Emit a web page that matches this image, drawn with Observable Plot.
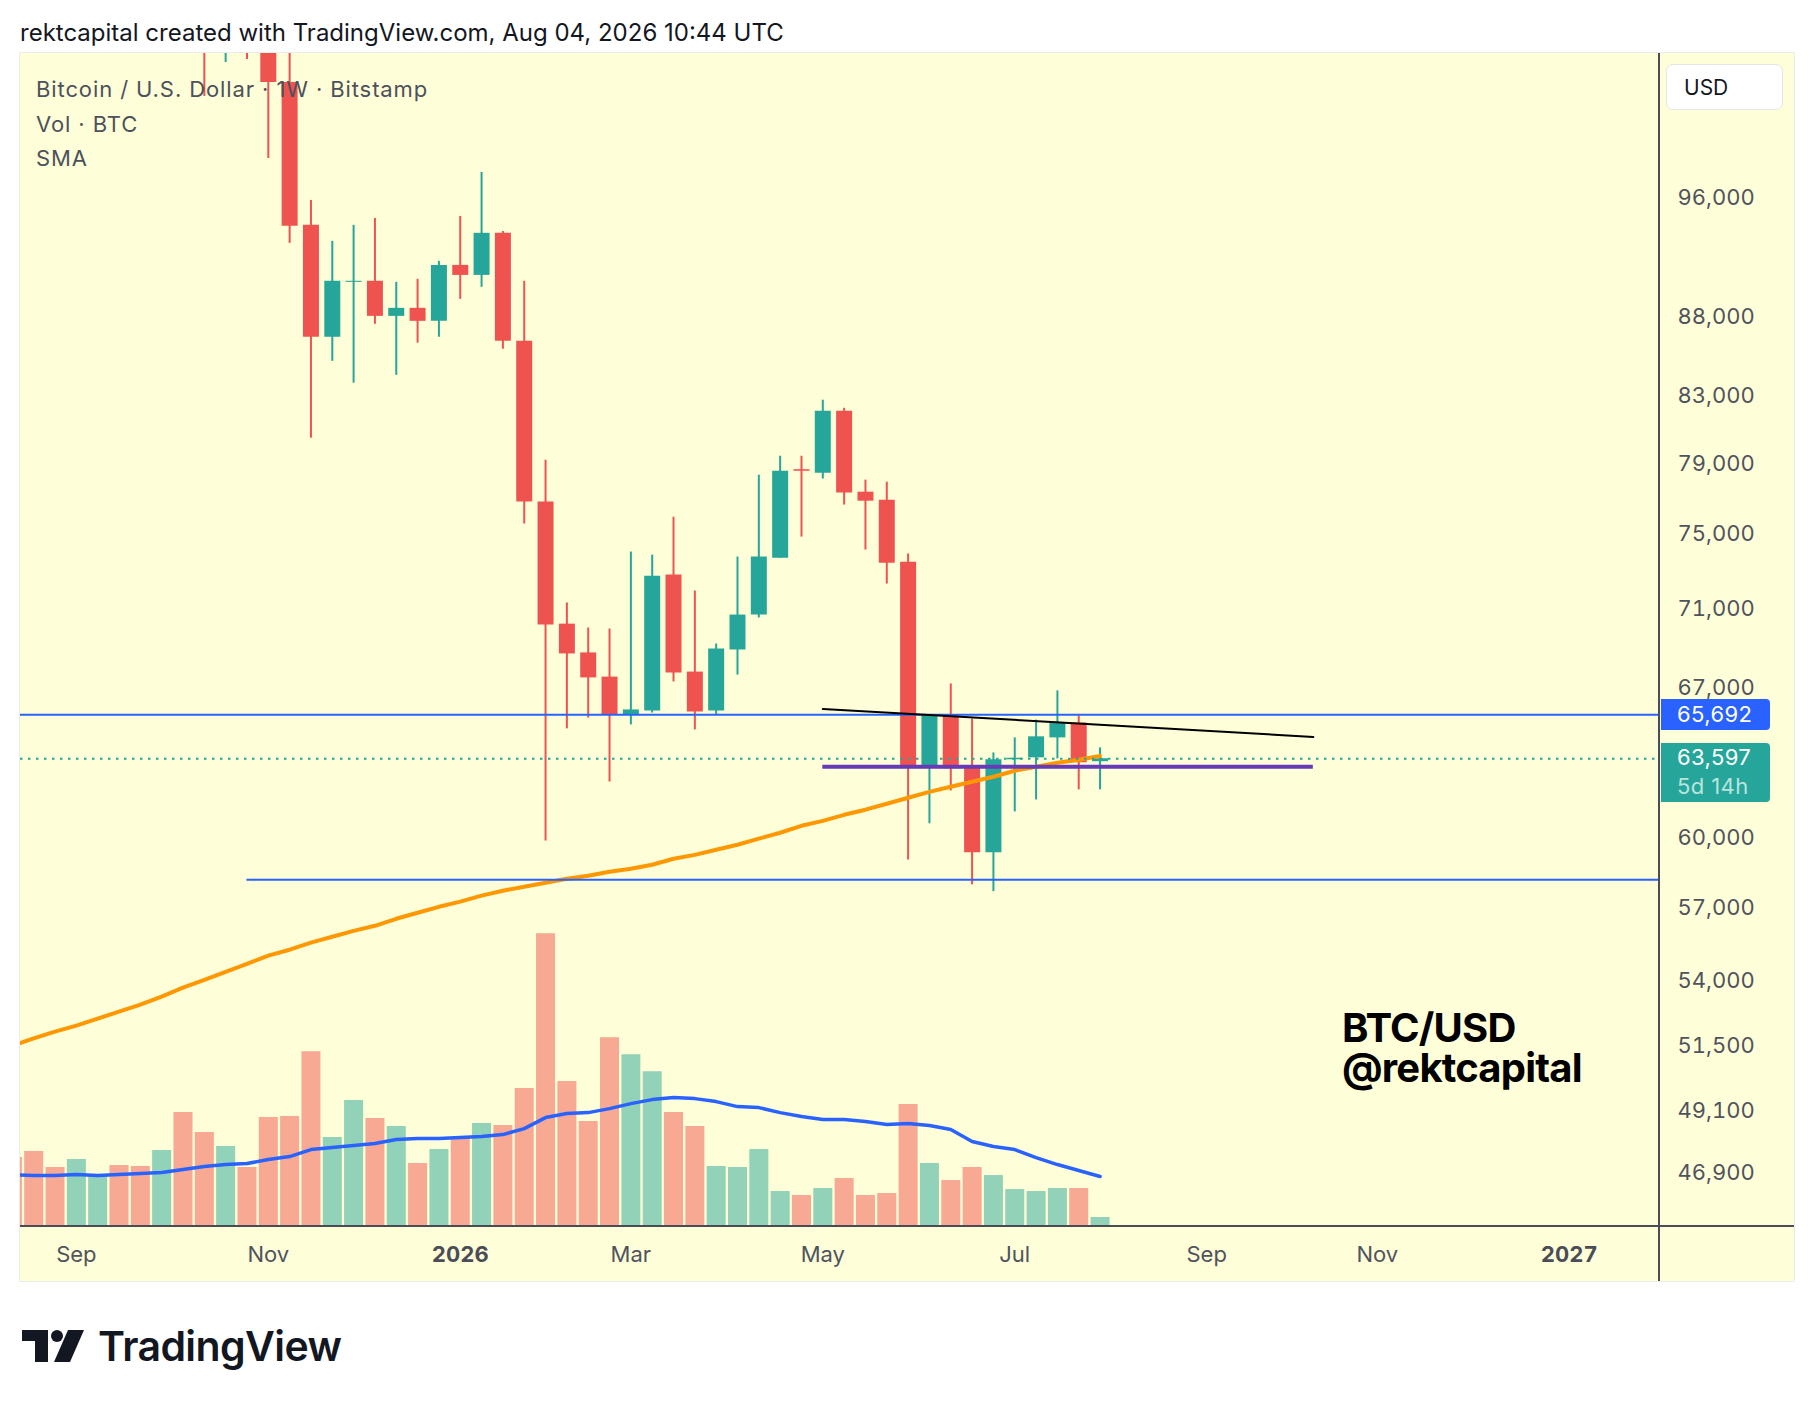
<!DOCTYPE html>
<html>
<head>
<meta charset="utf-8">
<script src="https://cdn.jsdelivr.net/npm/d3@7"></script>
<script src="https://cdn.jsdelivr.net/npm/@observablehq/plot@0.6"></script>
<style>
html,body{margin:0;padding:0;background:#ffffff;}
#page{position:relative;width:1814px;height:1402px;overflow:hidden;font-family:Inter,"Noto Sans",sans-serif;background:#fff;}
#title{position:absolute;left:20px;top:21px;font-size:24px;line-height:24px;color:#131722;white-space:nowrap;}
#frame{position:absolute;left:20px;top:53px;width:1774px;height:1228px;background:#fefed8;box-shadow:0 0 0 1px #ececec;}
.layer{position:absolute;left:0;top:0;}
.legend{position:absolute;left:16px;font-size:22px;line-height:22px;color:#4c515c;white-space:nowrap;letter-spacing:0.9px;}
.hline{position:absolute;background:#4a4d57;}
#usd{position:absolute;left:1646px;top:11px;width:117px;height:46px;background:#fff;border:1px solid #e6e6e6;border-radius:7px;box-sizing:border-box;font-size:21px;line-height:46px;padding-left:17px;color:#131722;}
.tag{position:absolute;left:1641px;width:109px;border-radius:0 4px 4px 0;color:#fff;font-size:22px;box-sizing:border-box;padding-left:16px;letter-spacing:0.4px;}
#brand{position:absolute;left:1322px;top:955px;font-size:40px;line-height:40px;font-weight:700;color:#000;letter-spacing:-0.8px;white-space:nowrap;}
#tv{position:absolute;left:22px;top:1318px;height:56px;display:flex;align-items:center;}
#tv span{font-size:41px;font-weight:600;color:#131722;margin-left:12px;letter-spacing:-0.6px;}
</style>
</head>
<body>
<div id="page">
  <div id="title">rektcapital created with TradingView.com, Aug 04, 2026 10:44 UTC</div>
  <div id="frame">
    <div id="vol" class="layer"></div>
    <div id="price" class="layer"></div>
    <div class="hline" style="left:1638px;top:0;width:2px;height:1228px;"></div>
    <div class="hline" style="left:0;top:1172px;width:1774px;height:2px;"></div>
    <div class="legend" style="top:25px;">Bitcoin / U.S. Dollar · 1W · Bitstamp</div>
    <div class="legend" style="top:60px;">Vol · BTC</div>
    <div class="legend" style="top:94px;">SMA</div>
    <div id="usd">USD</div>
    <div id="brand">BTC/USD<br>@rektcapital</div>
  </div>
  <div id="tv">
    <svg width="64" height="32" viewBox="0 0 64 32">
      <path d="M0 0 H26 V32 H13 V11 H0 Z" fill="#131722"/>
      <circle cx="35" cy="6" r="6" fill="#131722"/>
      <path d="M46 0 H62 L48 32 H32 Z" fill="#131722"/>
    </svg>
    <span>TradingView</span>
  </div>
</div>
<script>
// ---- data (weekly candles, Bitstamp BTC/USD) ----
const weeks = ["2025-08-11","2025-08-18","2025-08-25","2025-09-01","2025-09-08","2025-09-15","2025-09-22","2025-09-29",
  "2025-10-06","2025-10-13","2025-10-20","2025-10-27","2025-11-03","2025-11-10","2025-11-17","2025-11-24",
  "2025-12-01","2025-12-08","2025-12-15","2025-12-22","2025-12-29","2026-01-05","2026-01-12","2026-01-19",
  "2026-01-26","2026-02-02","2026-02-09","2026-02-16","2026-02-23","2026-03-02","2026-03-09","2026-03-16",
  "2026-03-23","2026-03-30","2026-04-06","2026-04-13","2026-04-20","2026-04-27","2026-05-04","2026-05-11",
  "2026-05-18","2026-05-25","2026-06-01","2026-06-08","2026-06-15","2026-06-22","2026-06-29","2026-07-06",
  "2026-07-13","2026-07-20","2026-07-27","2026-08-03"];
const open = [119300,117400,113500,108300,111200,115300,115200,109600,123500,115200,108600,114500,110600,104530,94120,86690,
  90260,90330,88030,88550,87710,91390,90720,93570,86430,76800,70210,68740,67530,65680,65870,72790,
  67780,65870,68890,70680,73700,78650,78450,82100,77360,76900,73480,63220,65690,63170,59350,63550,
  63640,64580,65290,63460];
const high = [124450,117600,113600,113400,116800,117900,115400,125600,126200,115900,116000,116400,110700,107500,95860,93020,
  94120,94600,90260,90460,91660,94740,97850,93700,90330,79200,71310,70010,69960,74030,73860,75950,
  71940,69190,73760,78330,79430,79430,82770,82280,78050,77930,73920,65700,67190,65480,63870,64580,
  65430,66850,65630,64110];
const low = [116800,110700,107300,107300,110600,114700,108600,109500,107500,103470,106080,106320,98860,92880,80490,85170,
  83810,87520,84300,86310,86690,89140,89930,85930,75570,59870,65010,65530,62520,65200,65770,67290,
  64960,65680,67630,70530,73700,74850,78110,76630,74140,72310,59040,60630,62110,57970,57680,61160,
  61700,63590,62160,62160];
const close = [117400,113500,108300,111200,115300,115200,109600,123500,115200,108600,114500,110600,104530,94050,86690,90330,
  90330,88030,88550,87710,91390,90720,93570,86430,76800,70160,68690,67490,65680,65920,72730,67730,
  65820,68940,70680,73760,78560,78560,82100,77310,76850,73430,63220,65690,63130,59350,63550,63620,
  64630,65290,63410,63597];
const volume = [4080,4440,3480,3960,3060,3600,3540,4500,6780,5580,4740,3480,6480,6540,10440,5280,
  7500,6420,5940,3720,4560,5220,6120,6000,8220,17520,8640,6240,11280,10260,9240,6780,
  5940,3540,3480,4560,2040,1800,2220,2820,1800,1920,7260,3720,2700,3480,3000,2160,
  2040,2220,2220,480];
const priceSma = [51510,51780,52040,52270,52540,52810,53080,53400,53750,54060,54380,54700,55030,55270,55560,55800,
  56040,56250,56540,56790,57040,57260,57510,57720,57890,58060,58230,58360,58530,58660,58830,59090,
  59260,59480,59700,59970,60230,60540,60760,61030,61260,61530,61800,62070,62300,62530,62760,63040,
  63220,63410,63550,63730];
const volumeSma = [3060,3000,3000,3060,3000,3060,3120,3180,3360,3540,3660,3720,3960,4140,4560,4680,
  4800,4920,5160,5220,5220,5280,5340,5460,5820,6480,6720,6780,7020,7320,7560,7680,
  7620,7440,7140,7080,6780,6540,6360,6360,6240,6060,6120,6000,5760,5040,4740,4560,
  4080,3660,3300,2940];

const priceTicks = [96000,88000,83000,79000,75000,71000,67000,60000,57000,54000,51500,49100,46900];
const monthTicks = ["2025-09-01","2025-11-03","2026-03-02","2026-05-04","2026-07-06","2026-09-07","2026-11-02"];
const yearTicks = ["2026-01-05","2027-01-04"];
const resistanceLevel = 65692;
const supportLevel = 58185, supportStart = "2025-10-27";
const purpleLevel = 63219, purpleStart = "2026-05-04", purpleEnd = "2026-10-12";
const trendDates = ["2026-05-04","2026-10-12"], trendValues = [65965,64625];
const lastPrice = 63597, countdown = "5d 14h";
const priceDomain = [45130,106790];
const volumeDomain = [0,70380];
const timeDomain = ["2025-08-13T16:00:00Z","2027-02-02T07:00:00Z"];

// ---- build rows ----
const rows = weeks.map((w,i)=>({date:new Date(w), open:open[i], high:high[i], low:low[i], close:close[i],
  vol:volume[i], sma:priceSma[i], vsma:volumeSma[i]}));
const up = "#26a69a", down = "#ef5350";
const candleColor = d => d.close >= d.open ? up : down;
const volColor = d => d.close >= d.open ? "rgba(38,166,154,0.5)" : "rgba(239,83,80,0.5)";
const W = 1774, H = 1228;
const common = {
  width: W, height: H, marginLeft: 0, marginRight: 136, marginTop: 0, marginBottom: 56,
  style: {background:"transparent", fontFamily:"Inter, sans-serif", fontSize:"22px", color:"#50535e", overflow:"visible"}
};
const timeExtent = timeDomain.map(d=>new Date(d));

const volPlot = Plot.plot({
  ...common,
  x: {type:"utc", domain: timeExtent, axis:null},
  y: {type:"linear", domain: volumeDomain, axis:null},
  marks: [
    Plot.ruleX(rows, {x:"date", y1:0, y2:"vol", stroke: volColor, strokeWidth:19, clip:true}),
    Plot.line(rows, {x:"date", y:"vsma", stroke:"#2962ff", strokeWidth:3.5, clip:true})
  ]
});
document.getElementById("vol").appendChild(volPlot);

const pricePlot = Plot.plot({
  ...common,
  x: {type:"utc", domain: timeExtent},
  y: {type:"log", domain: priceDomain},
  marks: [
    Plot.ruleX(rows, {x:"date", y1:"low", y2:"high", stroke: candleColor, strokeWidth:2, clip:true}),
    Plot.ruleX(rows, {x:"date", y1:"open", y2:"close", stroke: candleColor, strokeWidth:16, clip:true}),
    Plot.line(rows, {x:"date", y:"sma", stroke:"#ff9800", strokeWidth:4, clip:true}),
    Plot.ruleY([lastPrice], {stroke:up, strokeWidth:2, strokeDasharray:"2.5,5.5"}),
    Plot.ruleY([resistanceLevel], {stroke:"#2962ff", strokeWidth:2}),
    Plot.ruleY([supportLevel], {x1:new Date(supportStart), x2:timeExtent[1], stroke:"#2962ff", strokeWidth:2}),
    Plot.ruleY([purpleLevel], {x1:new Date(purpleStart), x2:new Date(purpleEnd), stroke:"#673ab7", strokeWidth:4}),
    Plot.line(trendDates.map((d,i)=>({date:new Date(d), v:trendValues[i]})), {x:"date", y:"v", stroke:"#000", strokeWidth:2}),
    Plot.axisY(priceTicks, {anchor:"right", tickSize:0, tickPadding:19, tickFormat:d3.format(","), fontSize:22, fill:"#50535e", letterSpacing:"0.4px"}),
    Plot.axisX(monthTicks.map(d=>new Date(d)), {anchor:"bottom", tickSize:0, tickPadding:21, tickFormat:d3.utcFormat("%b"), fontSize:22, fill:"#50535e"}),
    Plot.axisX(yearTicks.map(d=>new Date(d)), {anchor:"bottom", tickSize:0, tickPadding:21, tickFormat:d3.utcFormat("%Y"), fontSize:22, fontWeight:"bold", fill:"#4a4d57"})
  ]
});
document.getElementById("price").appendChild(pricePlot);

// price tags on the right scale, positioned with the plot's own y scale
const ys = pricePlot.scale("y");
const frame = document.getElementById("frame");
const fmt = d3.format(",");
const blue = document.createElement("div");
blue.className = "tag";
blue.style.background = "#2962ff";
blue.style.top = (ys.apply(resistanceLevel) - 15.5) + "px";
blue.style.height = "31px"; blue.style.lineHeight = "31px";
blue.textContent = fmt(resistanceLevel);
frame.appendChild(blue);
const teal = document.createElement("div");
teal.className = "tag";
teal.style.background = up;
teal.style.top = (ys.apply(lastPrice) - 15) + "px";
teal.style.height = "59px"; teal.style.lineHeight = "29px";
teal.innerHTML = fmt(lastPrice) + '<br><span style="color:#b9e4de">' + countdown + '</span>';
frame.appendChild(teal);
</script>
</body>
</html>
